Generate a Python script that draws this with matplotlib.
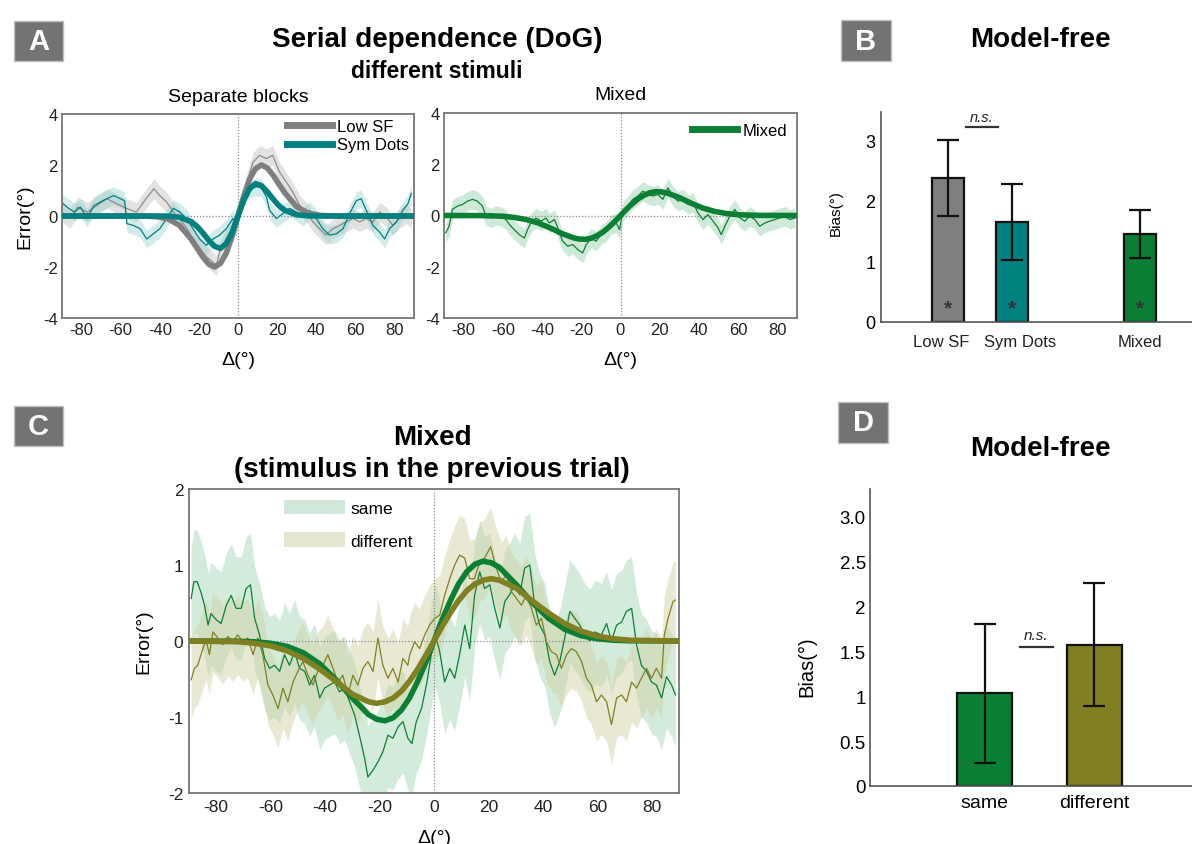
import matplotlib
matplotlib.use('Agg')
import matplotlib.pyplot as plt
from matplotlib.patches import Rectangle, Patch
from matplotlib.lines import Line2D
import numpy as np

# ---------------- data ----------------
FIT_X = [-90, -72, -66, -60, -54, -48, -42, -36, -30, -24, -21, -18, -15, -12, -9, -6, -3, 0,
         3, 6, 9, 12, 15, 18, 21, 24, 30, 36, 42, 48, 54, 60, 66, 72, 90]

LOWSF_FIT = [0, 0, 0, 0, 0, -0.005, -0.026, -0.11, -0.36, -0.9, -1.24, -1.6, -1.88, -2.0, -1.86, -1.46, -0.80, 0,
             0.80, 1.46, 1.86, 2.0, 1.88, 1.6, 1.24, 0.9, 0.36, 0.11, 0.026, 0.005, 0, 0, 0, 0, 0]
SYMDOTS_FIT = [0, 0, 0, 0, 0, 0, 0, -0.006, -0.045, -0.22, -0.40, -0.66, -0.95, -1.19, -1.27, -1.08, -0.63, 0,
               0.63, 1.08, 1.27, 1.19, 0.95, 0.66, 0.40, 0.22, 0.045, 0.006, 0, 0, 0, 0, 0, 0, 0]
MIXED_FIT = [0, -0.003, -0.013, -0.03, -0.077, -0.16, -0.29, -0.48, -0.70, -0.87, -0.92, -0.93, -0.89, -0.79, -0.65, -0.46, -0.24, 0,
             0.24, 0.46, 0.65, 0.79, 0.89, 0.93, 0.92, 0.87, 0.70, 0.48, 0.29, 0.16, 0.077, 0.03, 0.013, 0.003, 0]
SAME_FIT = [0, -0.003, -0.01, -0.03, -0.07, -0.155, -0.30, -0.51, -0.75, -0.97, -1.03, -1.05, -1.01, -0.91, -0.75, -0.53, -0.28, 0,
            0.28, 0.53, 0.75, 0.91, 1.01, 1.05, 1.03, 0.97, 0.75, 0.51, 0.30, 0.155, 0.07, 0.03, 0.01, 0.003, 0]
DIFF_FIT = [0, -0.01, -0.03, -0.065, -0.13, -0.23, -0.37, -0.53, -0.70, -0.80, -0.82, -0.80, -0.75, -0.66, -0.53, -0.37, -0.19, 0,
            0.19, 0.37, 0.53, 0.66, 0.75, 0.80, 0.82, 0.80, 0.70, 0.53, 0.37, 0.23, 0.13, 0.065, 0.03, 0.01, 0]

LOWSF_X = [-90, -86, -82, -77, -72, -67, -62, -57, -52, -47, -43, -40, -36.5, -33, -30, -26, -23, -19.6, -16, -13, -11,
           -9.4, -6, -2.6, 0.8, 4.2, 7.6, 11, 14.5, 17.8, 21.2, 24.7, 28, 31.5, 35, 38.3, 41.7, 45, 48.5, 52, 55.4,
           58.8, 62.2, 65.6, 69, 72.5, 75.8, 79.2, 82.6, 86, 88.6]
LOWSF_Y = [0.15, -0.1, 0.35, 0.15, 0.42, 0.68, 0.48, 0.3, 0.15, 0.68, 1.07, 0.8, 0.55, 0.15, -0.1, -0.5, -0.9, -1.28, -1.6, -1.8, -1.95,
           -1.4, -0.9, -0.5, 0.3, 1.2, 2.1, 2.38, 2.25, 2.38, 1.73, 1.33, 0.94, 0.42, 0.16, -0.23, -0.5, -0.75, -0.5, -0.37, -0.23,
           -0.1, -0.23, -0.1, -0.23, 0.16, -0.04, -0.37, -0.1, 0.1, -0.1]
LOWSF_SEM = 0.38

SYMDOTS_X = [-90.4, -86.6, -83.5, -80.6, -77.2, -73.8, -70.4, -67, -63.6, -60.2, -58, -56.8, -53.5, -50, -46.7, -43.3, -40,
             -36.5, -33, -29.7, -26.3, -23, -19.6, -16.2, -12.8, -9.4, -6, -2.6, -0.9, 1.7, 4.2, 6.8, 9.5, 12, 14.5, 16.2,
             19.6, 23, 26.4, 29.8, 33.2, 36.6, 40, 43.4, 46.8, 50.2, 53.7, 57.1, 60.5, 63, 65.6, 69, 72.4, 75, 77.5, 80.9,
             84.3, 86.9, 88.6]
SYMDOTS_Y = [0.55, 0.3, 0.15, 0.35, -0.1, 0.4, 0.55, 0.68, 0.8, 0.68, 0.6, -0.3, -0.37, -0.5, -0.9, -0.7, -0.5,
             -0.1, 0.3, 0.15, -0.1, -0.5, -0.9, -1.15, -0.9, -0.75, -0.5, -0.1, -0.5, 0.48, 0.94, 1.07, 1.15, 1.1, 0.75, 0.22,
             -0.1, 0.1, 0.3, 0.16, -0.04, 0.22, -0.1, -0.5, -0.75, -0.7, -0.5, 0.1, 0.6, 0.68, 0.22, -0.37, -0.63, -0.9, -0.5, -0.24,
             0.22, 0.48, 0.88]
SYMDOTS_SEM = 0.35

MIXED_X = [-89.1, -87.4, -85.7, -83, -80.6, -78, -75.5, -73, -70.4, -68.7, -66, -63.5, -61, -58.4, -56.7, -54.2, -51.6, -49,
           -47.4, -45.7, -43.1, -40.5, -38, -36.3, -33.7, -32, -29.5, -26.9, -24.4, -21.8, -19.3, -17.5, -15, -12.4, -9.9,
           -7.3, -4.8, -2.2, -0.5, 1.2, 3.7, 6.3, 8.9, 11.4, 14, 16.5, 19.1, 21.6, 24.2, 26.7, 29.3, 31.9, 34.4, 37, 39.5,
           42.1, 44.6, 47.2, 49.7, 51.4, 53.2, 55.7, 58.3, 60.8, 63.4, 65.9, 68.5, 71, 73.6, 76.1, 78.7, 81.3, 83.8, 86.4, 88.9]
MIXED_Y = [-0.68, -0.42, 0.24, 0.37, 0.43, 0.56, 0.63, 0.56, 0.37, 0.0, -0.1, 0.0, -0.03, -0.16, -0.35, -0.55, -0.75, -0.88,
           -0.55, -0.29, -0.1, -0.22, -0.1, -0.29, -0.16, -0.48, -1.0, -1.2, -1.13, -1.33, -1.46, -1.14, -0.88, -1.0, -0.75,
           -0.62, -0.35, -0.29, -0.55, 0.17, 0.37, 0.63, 0.76, 0.95, 0.82, 0.76, 0.82, 0.63, 1.08, 0.76, 0.56, 0.63, 0.43, 0.5, 0.1,
           -0.16, 0.04, -0.22, -0.48, -0.75, -0.42, -0.03, 0.24, -0.09, -0.22, -0.03, -0.16, -0.42, -0.29, -0.22, -0.16, -0.09, -0.03, -0.16, -0.09]
MIXED_SEM = 0.38

SAME_X = [-89.2, -88.2, -87, -85.5, -84.3, -83, -81.9, -80, -78.2, -76.3, -74.5, -72.7, -70.8, -69, -67.4, -65.9, -64.1,
          -62.2, -60.4, -58.6, -56.7, -54.9, -53.1, -51.2, -49.4, -47.5, -45.7, -43.9, -42, -40.2, -38.4, -36.5, -34.7,
          -32.9, -31, -29.2, -27.4, -25.5, -24.3, -22.4, -20.6, -18.8, -16.9, -15.1, -13.2, -11.4, -9.6, -8.1, -6.5, -4.6,
          -2.8, -1, 0.5, 2.1, 3.9, 5.8, 7.6, 9.4, 11.3, 13.1, 14.9, 16.8, 18.6, 20.5, 22.3, 24.2, 26, 27.8, 29.7, 31.5, 33.3,
          35.2, 37, 38.8, 40.7, 42.5, 44.3, 46.2, 48, 49.9, 51.7, 53.5, 55.4, 57.2, 59.1, 61.5, 63.4, 65.2, 67.1, 68.9, 70.7,
          72.6, 74.4, 76.2, 78.1, 79.9, 81.7, 83.6, 85.4, 87.3, 88.7]
SAME_Y = [0.56, 0.78, 0.78, 0.63, 0.47, 0.21, 0.36, 0.28, 0.23, 0.47, 0.6, 0.43, 0.43, 0.69, 0.74, 0.3, 0.08,
          -0.23, -0.36, -0.32, -0.4, -0.18, -0.32, -0.14, -0.36, -0.4, -0.58, -0.45, -0.75, -0.62, -0.58, -0.54, -0.67,
          -0.62, -0.8, -0.97, -1.24, -1.54, -1.79, -1.7, -1.59, -1.46, -1.24, -1.28, -1.13, -1.06, -1.28, -1.35, -1.06, -0.89,
          -0.58, -0.18, 0.08, -0.14, -0.54, -0.36, -0.49, -0.18, 0.21, -0.1, 0.6, 0.91, 0.69, 0.74, 0.43, 0.17, 0.52, 0.61, 0.74, 0.61, 0.96,
          1.0, 0.47, 0.21, 0.08, -0.27, -0.45, -0.27, 0.04, 0.39, 0.3, 0.21, 0.08, 0.0, 0.12, 0.08, 0.23, 0.0, 0.21, 0.25, 0.39,
          0.43, -0.05, -0.32, -0.4, -0.54, -0.58, -0.75, -0.47, -0.58, -0.71]
SAME_SEM = 0.68

DIFF_X = [-89.2, -88, -86.8, -84.9, -83.7, -82.5, -81.2, -79.4, -77.6, -75.7, -73.9, -72.1, -70.2, -68.4, -66.5, -64.7,
          -62.9, -61, -59.2, -57.3, -55.5, -53.7, -51.8, -50, -48.2, -46.3, -44.5, -42.7, -40.8, -39, -37.1, -35.3, -33.5,
          -31.6, -29.8, -28, -26.1, -24.3, -22.4, -20.6, -18.8, -16.9, -15.1, -13.2, -11.4, -9.6, -8.9, -7.1, -5.3, -3.4,
          -1.6, 0.3, 2.1, 3.9, 5.8, 7.6, 9.4, 11.3, 13.1, 14.9, 16.8, 18.6, 20.8, 22.9, 24.7, 26.6, 28.4, 30.3, 32.1, 33.9,
          35.8, 37.6, 39.5, 41.3, 43.1, 45, 46.8, 48.7, 50.5, 52.3, 54.2, 56, 57.8, 59.7, 61.5, 63.4, 65.2, 67.1, 68.9, 70.7,
          72.6, 74.4, 76.2, 78.1, 79.9, 81.7, 83.6, 84.6, 86, 87.8, 88.7]
DIFF_Y = [-0.51, -0.36, -0.32, -0.1, 0.01, -0.18, 0.12, 0.04, -0.05, 0.06, -0.01, 0.08, -0.01, 0.04, -0.18, 0.04,
          -0.18, -0.58, -0.71, -0.89, -0.62, -0.8, -0.54, -0.4, -0.27, -0.45, -0.58, -0.4, -0.32, -0.18, -0.36, -0.54, -0.45,
          -0.71, -0.45, -0.58, -0.36, -0.27, -0.4, 0.04, -0.32, -0.49, -0.36, -0.54, -0.23, -0.32, -0.18, -0.01, -0.1, 0.08,
          0.21, 0.3, 0.34, 0.6, 0.82, 1.0, 1.13, 1.09, 0.82, 0.82, 1.04, 1.09, 1.24, 0.96, 0.78, 0.87, 0.65, 0.56, 0.47, 0.6,
          0.43, 0.21, 0.3, -0.01, -0.14, -0.18, -0.36, -0.18, -0.1, -0.14, -0.27, -0.49, -0.58, -0.8, -0.71, -0.8, -1.1, -0.75, -0.71, -0.8,
          -0.54, -0.62, -0.49, -0.36, -0.49, -0.36, -0.49, 0.08, 0.3, 0.52, 0.54]
DIFF_SEM = 0.52

B_LABELS = ['Low SF', 'Sym Dots', 'Mixed']
B_POS = [1, 2, 4]
B_BIAS = [2.37, 1.65, 1.45]
B_LO = [1.74, 1.02, 1.06]
B_HI = [3.0, 2.27, 1.84]

D_LABELS = ['same', 'different']
D_POS = [1, 2]
D_BIAS = [1.04, 1.575]
D_LO = [0.26, 0.89]
D_HI = [1.81, 2.26]

# ---------------- styling ----------------
GREY = '#7f7f7f'
TEAL = '#00807f'
GREEN = '#0b8035'
OLIVE = '#807f22'

W, H = 1192, 845
plt.rcParams['font.family'] = ['Liberation Sans', 'DejaVu Sans']
plt.rcParams['axes.unicode_minus'] = False
fig = plt.figure(figsize=(W / 100, H / 100), dpi=100)


def ax_px(l, t, r, b):
    return fig.add_axes([l / W, 1 - b / H, (r - l) / W, (b - t) / H])


def ftext(x, y, s, **kw):
    fig.text(x / W, 1 - y / H, s, ha='center', va='center', **kw)


def panel_label(x0, y0, x1, y1, s):
    rect = Rectangle((x0 / W, 1 - y1 / H), (x1 - x0) / W, (y1 - y0) / H, transform=fig.transFigure,
                     facecolor='#737373', edgecolor='#c0c0c0', lw=1)
    fig.add_artist(rect)
    ftext((x0 + x1) / 2, (y0 + y1) / 2, s, color='white', fontsize=21, fontweight='bold')


def style_curve(ax, ylim, yticks, lab=12, pad=3):
    ax.set_xlim(-90, 90)
    ax.set_ylim(*ylim)
    ax.set_xticks(range(-80, 81, 20))
    ax.set_yticks(yticks)
    for s in ax.spines.values():
        s.set_color('#767676')
        s.set_linewidth(1.3)
    ax.tick_params(length=0, labelsize=lab, pad=pad, colors='#222222')
    ax.axvline(0, color='#8a8a8a', ls=(0, (1, 1.5)), lw=0.9, zorder=2.5)
    ax.axhline(0, color='#8a8a8a', ls=(0, (1, 1.5)), lw=0.9, zorder=2.5)


def curve(ax, x, y, sem, fit, col, band, balpha, fitcol=None, lw=4):
    x = np.asarray(x)
    y = np.asarray(y)
    ax.fill_between(x, y - sem, y + sem, color=band, alpha=balpha, lw=0, zorder=1)
    ax.plot(x, y, color=col, lw=0.9, zorder=2)
    ax.plot(FIT_X, fit, color=fitcol or col, lw=lw, zorder=3, solid_capstyle='butt')


# ---- Panel A left ----
axA1 = ax_px(62, 115, 414, 319)
style_curve(axA1, (-4, 4), [-4, -2, 0, 2, 4])
curve(axA1, LOWSF_X, LOWSF_Y, LOWSF_SEM, LOWSF_FIT, '#8c8c8c', '#cfcfcf', 0.6, fitcol=GREY, lw=4)
curve(axA1, SYMDOTS_X, SYMDOTS_Y, SYMDOTS_SEM, SYMDOTS_FIT, TEAL, '#8fcfcf', 0.4, lw=4)
axA1.set_ylabel('Error(°)', fontsize=14)
axA1.yaxis.set_label_coords(-0.08, 0.5)
axA1.set_xlabel('Δ(°)', fontsize=14)
axA1.xaxis.set_label_coords(0.5, -0.16)
axA1.legend([Line2D([], [], color=GREY, lw=5), Line2D([], [], color=TEAL, lw=5)], ['Low SF', 'Sym Dots'],
            loc='upper right', frameon=False, fontsize=12, handlelength=2.7, handletextpad=0.3,
            labelspacing=0.2, borderaxespad=0.1, borderpad=0.2)

# ---- Panel A right ----
axA2 = ax_px(444, 114, 797, 319)
style_curve(axA2, (-4, 4), [-4, -2, 0, 2, 4])
curve(axA2, MIXED_X, MIXED_Y, MIXED_SEM, MIXED_FIT, GREEN, '#a9d8b8', 0.55, lw=4)
axA2.set_xlabel('Δ(°)', fontsize=14)
axA2.xaxis.set_label_coords(0.5, -0.16)
axA2.legend([Line2D([], [], color=GREEN, lw=5)], ['Mixed'],
            loc='upper right', frameon=False, fontsize=12, handlelength=2.7, handletextpad=0.3,
            borderaxespad=0.3, borderpad=0.3)

ftext(437, 40, 'Serial dependence (DoG)', fontsize=20, fontweight='bold')
ftext(437, 72, 'different stimuli', fontsize=16.5, fontweight='bold')
ftext(238, 97, 'Separate blocks', fontsize=14)
ftext(620, 96, 'Mixed', fontsize=14)

# ---- Panel B ----
axB = ax_px(881, 112.7, 1192, 322.7)
axB.bar(B_POS, B_BIAS, width=0.5, color=[GREY, TEAL, '#0a7f35'], edgecolor='#111111', linewidth=1.6, zorder=2)
b_err = [np.array(B_BIAS) - np.array(B_LO), np.array(B_HI) - np.array(B_BIAS)]
axB.errorbar(B_POS, B_BIAS, yerr=b_err, fmt='none', ecolor='#111111', elinewidth=1.6, capsize=8, capthick=1.6, zorder=3)
for p in B_POS:
    axB.text(p, 0.22, '*', ha='center', va='center', fontsize=15, fontweight='bold', color='#333333', zorder=4)
axB.plot([1.277, 1.777], [3.22, 3.22], color='#333333', lw=1.6)
axB.text(1.53, 3.39, 'n.s.', ha='center', va='center', fontsize=10.5, style='italic', color='#222222')
axB.set_xlim(-0.047, 4.81)
axB.set_ylim(0, 3.47)
axB.set_xticks(B_POS)
axB.set_xticklabels([])
# category labels placed under their bars (slightly spread, as in the original)
for p, lab, dx in zip(B_POS, B_LABELS, [-5, 6, 0]):
    axB.annotate(lab, xy=(p, 0), xycoords=('data', 'axes fraction'), xytext=(dx, -9),
                 textcoords='offset points', ha='center', va='top', fontsize=12, color='#222222',
                 annotation_clip=False)
axB.set_yticks([0, 1, 2, 3])
axB.tick_params(axis='y', labelsize=13, length=0, pad=4)
axB.tick_params(axis='x', length=0)
for s in ['top', 'right']:
    axB.spines[s].set_visible(False)
for s in ['left', 'bottom']:
    axB.spines[s].set_color('#555555')
    axB.spines[s].set_linewidth(1.2)
axB.set_ylabel('Bias(°)', fontsize=11)
axB.yaxis.set_label_coords(-0.122, 0.52)
ftext(1040, 40, 'Model-free', fontsize=20, fontweight='bold')

# ---- Panel C ----
axC = ax_px(189, 490, 679, 794)
style_curve(axC, (-2, 2), [-2, -1, 0, 1, 2], lab=12.5, pad=4)
curve(axC, SAME_X, SAME_Y, SAME_SEM, SAME_FIT, GREEN, '#a9d8b8', 0.5, lw=4)
curve(axC, DIFF_X, DIFF_Y, DIFF_SEM, DIFF_FIT, OLIVE, '#cfcf9f', 0.45, lw=4)
axC.set_ylabel('Error(°)', fontsize=14)
axC.yaxis.set_label_coords(-0.0755, 0.5)
axC.set_xlabel('Δ(°)', fontsize=14)
axC.xaxis.set_label_coords(0.5, -0.118)
axC.legend([Patch(facecolor='#cfe8d9', edgecolor='none'), Patch(facecolor='#e6e5cf', edgecolor='none')],
           ['same', 'different'], loc='upper left', bbox_to_anchor=(0.194, 0.965), frameon=False,
           fontsize=12.5, handlelength=3.5, handleheight=0.9, handletextpad=0.3, labelspacing=0.95,
           borderaxespad=0, borderpad=0)
ftext(432, 438, 'Mixed', fontsize=20, fontweight='bold')
ftext(432, 470, '(stimulus in the previous trial)', fontsize=20, fontweight='bold')

# ---- Panel D ----
axD = ax_px(870, 490, 1192, 787)
axD.bar(D_POS, D_BIAS, width=0.5, color=['#0a7f35', OLIVE], edgecolor='#111111', linewidth=1.6, zorder=2)
d_err = [np.array(D_BIAS) - np.array(D_LO), np.array(D_HI) - np.array(D_BIAS)]
axD.errorbar(D_POS, D_BIAS, yerr=d_err, fmt='none', ecolor='#111111', elinewidth=1.6, capsize=8, capthick=1.6, zorder=3)
axD.plot([1.32, 1.62], [1.55, 1.55], color='#333333', lw=1.6)
axD.text(1.47, 1.68, 'n.s.', ha='center', va='center', fontsize=11, style='italic', color='#222222')
axD.set_xlim(-0.048, 2.89)
axD.set_ylim(0, 3.31)
axD.set_xticks(D_POS)
axD.set_xticklabels(D_LABELS, fontsize=14)
axD.set_yticks([0, 0.5, 1, 1.5, 2, 2.5, 3])
axD.set_yticklabels(['0', '0.5', '1', '1.5', '2', '2.5', '3.0'])
axD.tick_params(axis='y', labelsize=13.5, length=0, pad=3)
axD.tick_params(axis='x', length=0, pad=6)
for s in ['top', 'right']:
    axD.spines[s].set_visible(False)
for s in ['left', 'bottom']:
    axD.spines[s].set_color('#555555')
    axD.spines[s].set_linewidth(1.2)
axD.set_ylabel('Bias(°)', fontsize=14.5)
axD.yaxis.set_label_coords(-0.168, 0.404)
ftext(1040, 449, 'Model-free', fontsize=20, fontweight='bold')

# panel labels
panel_label(14, 22, 63, 62, 'A')
panel_label(841, 21, 891, 62, 'B')
panel_label(14, 407, 63, 447, 'C')
panel_label(838, 403, 888, 444, 'D')

fig.savefig('out.png', dpi=100)
